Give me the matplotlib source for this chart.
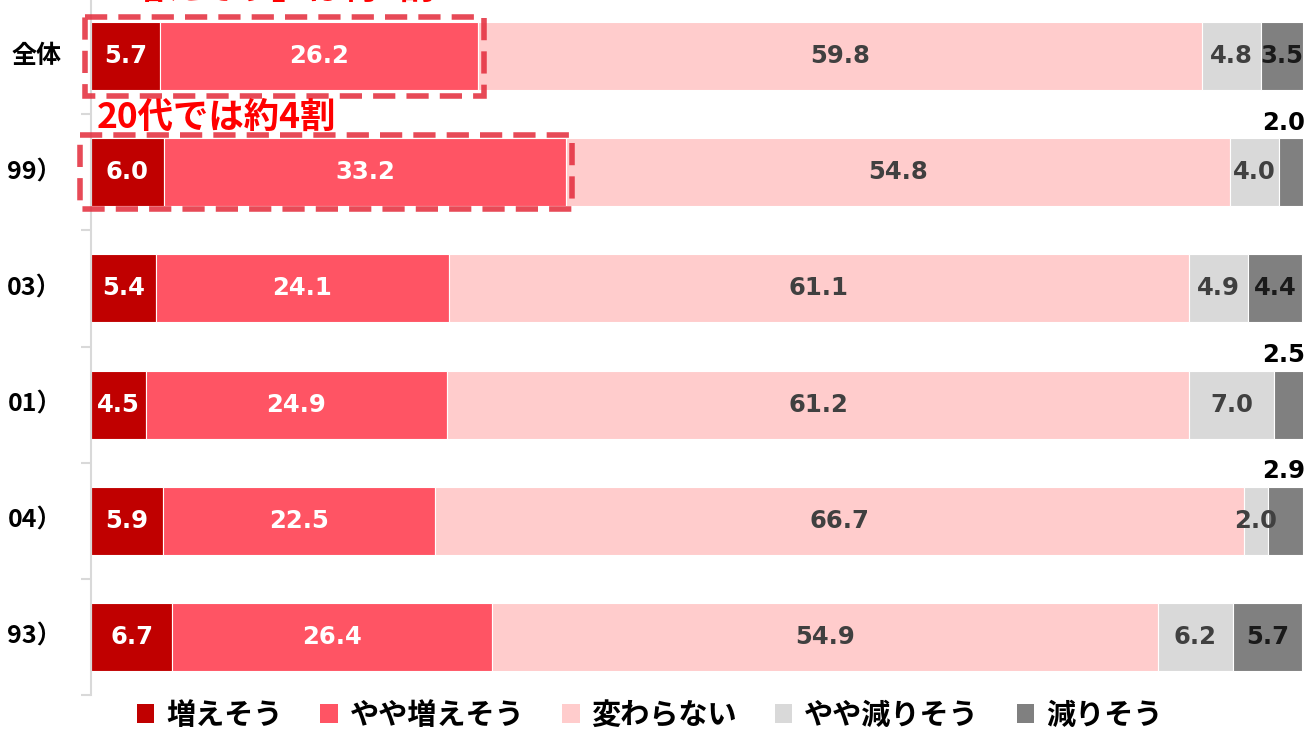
import matplotlib
matplotlib.use("Agg")
import matplotlib.pyplot as plt
from matplotlib.patches import Rectangle, Patch
import numpy as np

categories = ["全体", "99）", "03）", "01）", "04）", "93）"]
series_names = ["増えそう", "やや増えそう", "変わらない", "やや減りそう", "減りそう"]
inc = [5.7, 6.0, 5.4, 4.5, 5.9, 6.7]
slight_inc = [26.2, 33.2, 24.1, 24.9, 22.5, 26.4]
same = [59.8, 54.8, 61.1, 61.2, 66.7, 54.9]
slight_dec = [4.8, 4.0, 4.9, 7.0, 2.0, 6.2]
dec = [3.5, 2.0, 4.4, 2.5, 2.9, 5.7]
series = [inc, slight_inc, same, slight_dec, dec]

colors = ["#C00000", "#FF5464", "#FFCCCC", "#D9D9D9", "#808080"]
label_colors = ["white", "white", "#404040", "#404040", "#1a1a1a"]

JP = ["Noto Sans CJK JP", "DejaVu Sans"]
NUM = ["DejaVu Sans"]

fig = plt.figure(figsize=(13.07, 7.29), dpi=100)
ax = fig.add_axes([91 / 1307, 34 / 729, 1212 / 1307, 697 / 729])

y = np.arange(len(categories))
bar_h = 0.585
left = np.zeros(len(categories))
for si, vals in enumerate(series):
    vals = np.array(vals)
    ax.barh(y, vals, left=left, height=bar_h, color=colors[si],
            edgecolor="white", linewidth=0.8, label=series_names[si])
    for i, v in enumerate(vals):
        cx = left[i] + v / 2
        if si == 4 and v < 3.0:
            ax.text(100.15, y[i] - bar_h / 2 - 0.03, f"{v:.1f}", ha="right", va="bottom",
                    fontsize=17.5, fontweight="bold", color="black", family=NUM)
        else:
            ax.text(cx, y[i], f"{v:.1f}", ha="center", va="center",
                    fontsize=17.5, fontweight="bold", color=label_colors[si], family=NUM)
    left = left + vals

ax.set_xlim(0, 100)
ax.set_ylim(len(categories) - 0.5, -0.5)
for s in ["top", "right", "bottom"]:
    ax.spines[s].set_visible(False)
ax.spines["left"].set_color("#D9D9D9")
ax.spines["left"].set_linewidth(1.5)
ax.set_xticks([])
ax.set_yticks([])
ax.set_yticks(np.arange(len(categories)) + 0.5, minor=True)
ax.tick_params(axis="y", which="minor", length=7, width=1.5, color="#D9D9D9")

trans = ax.get_yaxis_transform()
for i, c in enumerate(categories):
    ax.text(-29 / 1212, y[i], c, transform=trans, ha="right", va="center",
            fontsize=18, fontweight="bold", family=JP, color="black")

# dashed highlight boxes
box_color = "#E32A3A"
for row, pad_l, half in [(0, 0.5, 0.34), (1, 0.9, 0.32)]:
    total = inc[row] + slight_inc[row]
    r = Rectangle((-pad_l, row - half), total + pad_l + 0.5, 2 * half, fill=False,
                  edgecolor=box_color, linewidth=4, linestyle=(0, (4, 2)), alpha=0.85,
                  clip_on=False, zorder=5)
    ax.add_patch(r)

ax.text(0.5, 0.53, "20代では約4割", ha="left", va="center", color="#FF0000",
        fontsize=25.5, fontweight="bold", family=JP, zorder=6)
fig.text(95 / 1307, 1.0 + 12 / 729, "「増えそう」は約3割", ha="left", va="center",
         color="#FF0000", fontsize=25.5, fontweight="bold", family=JP)

handles = [Patch(facecolor=c, edgecolor="none") for c in colors]
leg = fig.legend(handles, series_names, loc="center", bbox_to_anchor=(0.497, 14 / 729),
                 ncol=5, frameon=False, prop={"family": JP, "weight": "bold", "size": 21},
                 handlelength=0.6, handleheight=0.65, handletextpad=0.4, columnspacing=1.3,
                 borderaxespad=0, borderpad=0)

fig.savefig("out.png", dpi=100)
